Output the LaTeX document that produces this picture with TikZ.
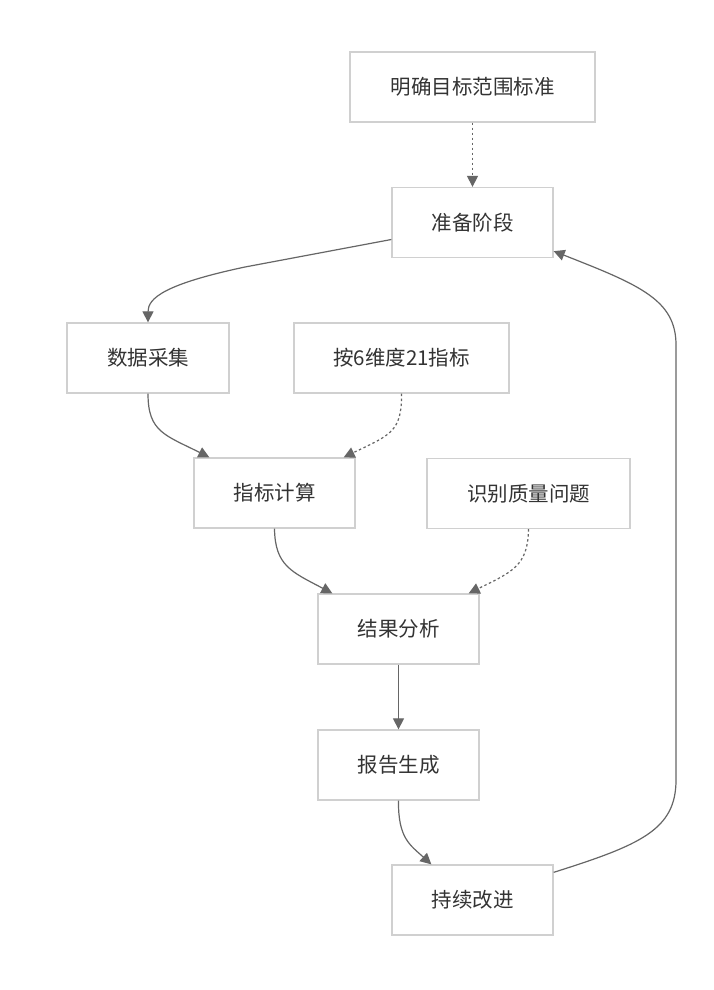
\documentclass[tikz,border=0pt]{standalone}
\usepackage{fontspec}
\setmainfont{Noto Sans CJK SC}
\usetikzlibrary{arrows.meta}
\definecolor{boxline}{HTML}{D0D0D0}
\definecolor{edgecol}{HTML}{666666}
\definecolor{txt}{HTML}{333333}
\tikzset{
  box/.style={draw=boxline, line width=1.3pt, fill=white, text=txt, inner sep=0pt,
    font=\fontsize{20.5}{24}\selectfont, minimum height=70pt},
  link/.style={draw=edgecol, line width=1.2pt, -{Triangle[length=11pt,width=11pt]}},
  dotlink/.style={link, dash pattern=on 2.5pt off 2.5pt}
}
\begin{document}
\begin{tikzpicture}[x=1pt,y=-1pt]
\useasboundingbox[fill=white] (0,0) rectangle (714,990);
\node[box, minimum width=245pt] (A) at (472.5,87) {明确目标范围标准};
\node[box, minimum width=161pt] (B) at (472.5,222.5) {准备阶段};
\node[box, minimum width=162pt] (C) at (148,358) {数据采集};
\node[box, minimum width=215pt] (D) at (401.5,358) {按6维度21指标};
\node[box, minimum width=161pt] (E) at (274.5,493) {指标计算};
\node[box, minimum width=203pt] (F) at (528.5,493.5) {识别质量问题};
\node[box, minimum width=161pt] (G) at (398.5,629) {结果分析};
\node[box, minimum width=161pt] (H) at (398.5,765) {报告生成};
\node[box, minimum width=161pt] (I) at (472.5,900) {持续改进};

\draw[dotlink] (A.south) -- (B.north);
\draw[link] ([yshift=-17pt]B.west) -- (245,267) .. controls (165,284) and (148,298) .. (C.north);
\draw[link] (C.south) .. controls (148,432) and (165,435) .. ([xshift=16pt]E.north west);
\draw[dotlink] (D.south) .. controls (402,432) and (390,435) .. ([xshift=-12pt]E.north east);
\draw[link] (E.south) .. controls (275,566) and (292,572) .. ([xshift=15pt]G.north west);
\draw[dotlink] (F.south) .. controls (528,566) and (512,572) .. ([xshift=-11pt]G.north east);
\draw[link] (G.south) -- (H.north);
\draw[link] (H.south) .. controls (398,838) and (410,845) .. ([xshift=40pt]I.north west);
\draw[link] ([yshift=-8pt]I.north east) .. controls (640,845) and (676,830) .. (676,780) -- (676,345) .. controls (676,300) and (640,285) .. ([yshift=7pt]B.south east);
\end{tikzpicture}
\end{document}
